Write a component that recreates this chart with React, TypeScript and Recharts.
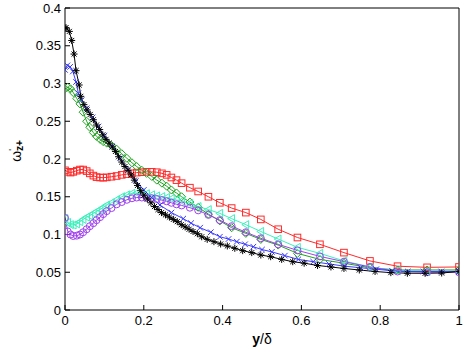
import { Label, Line, LineChart, XAxis, YAxis } from "recharts";

// near-wall stretched grid shared by the red / green / cyan / purple runs
const wallX = [
  0, 0.007, 0.014, 0.021, 0.03, 0.038, 0.046, 0.055, 0.063, 0.072, 0.08, 0.089, 0.097, 0.106, 0.118,
  0.131, 0.144, 0.157, 0.17, 0.182, 0.195, 0.207, 0.22, 0.233, 0.246, 0.258, 0.27, 0.283, 0.296,
  0.317, 0.338, 0.364, 0.393, 0.423, 0.459, 0.497, 0.541, 0.59, 0.647, 0.708, 0.774, 0.844, 0.919, 1.0,
];

const redY = [
  0.185, 0.183, 0.182, 0.183, 0.1845, 0.186, 0.186, 0.184, 0.181, 0.178, 0.176, 0.1755, 0.1752, 0.1757,
  0.1765, 0.1775, 0.179, 0.18, 0.181, 0.182, 0.1825, 0.183, 0.183, 0.1825, 0.181, 0.179, 0.1755, 0.172,
  0.168, 0.162, 0.157, 0.15, 0.142, 0.135, 0.129, 0.12, 0.107, 0.096, 0.087, 0.076, 0.065, 0.058,
  0.0565, 0.057,
];

const greenY = [
  0.293, 0.295, 0.293, 0.288, 0.28, 0.273, 0.262, 0.25, 0.242, 0.235, 0.23, 0.226, 0.223, 0.221, 0.218,
  0.213, 0.207, 0.201, 0.195, 0.19, 0.185, 0.181, 0.177, 0.172, 0.168, 0.164, 0.159, 0.155, 0.15, 0.143,
  0.136, 0.127, 0.118, 0.109, 0.1015, 0.0935, 0.086, 0.075, 0.067, 0.062, 0.056, 0.053, 0.053, 0.053,
];

const cyanY = [
  0.121, 0.116, 0.113, 0.1126, 0.114, 0.117, 0.12, 0.123, 0.125, 0.128, 0.1305, 0.133, 0.136, 0.139,
  0.142, 0.146, 0.15, 0.1525, 0.1545, 0.155, 0.155, 0.154, 0.1525, 0.151, 0.1502, 0.149, 0.1475, 0.1457,
  0.1445, 0.141, 0.137, 0.133, 0.128, 0.121, 0.113, 0.104, 0.094, 0.083, 0.075, 0.065, 0.057, 0.052,
  0.051, 0.051,
];

const purpleY = [
  0.122, 0.104, 0.1, 0.098, 0.0985, 0.1, 0.103, 0.107, 0.111, 0.115, 0.119, 0.123, 0.127, 0.131, 0.135,
  0.14, 0.143, 0.146, 0.148, 0.149, 0.149, 0.1485, 0.148, 0.147, 0.1455, 0.144, 0.142, 0.14, 0.1385,
  0.1355, 0.132, 0.126, 0.119, 0.111, 0.103, 0.095, 0.087, 0.079, 0.071, 0.064, 0.057, 0.051, 0.05, 0.05,
];

const blueX = [
  0, 0.006, 0.013, 0.02, 0.028, 0.034, 0.042, 0.055, 0.07, 0.085, 0.1, 0.12, 0.14, 0.16, 0.18, 0.2, 0.22,
  0.241, 0.27, 0.3, 0.32, 0.343, 0.37, 0.393, 0.415, 0.436, 0.457, 0.478, 0.5, 0.525, 0.558, 0.592, 0.63,
  0.67, 0.71, 0.75, 0.79, 0.83, 0.87, 0.91, 0.955, 1.0,
];
const blueY = [
  0.318, 0.324, 0.322, 0.316, 0.302, 0.287, 0.278, 0.267, 0.255, 0.243, 0.231, 0.217, 0.201, 0.186, 0.171,
  0.159, 0.149, 0.139, 0.129, 0.121, 0.115, 0.109, 0.103, 0.097, 0.094, 0.0905, 0.087, 0.0838, 0.08, 0.077,
  0.072, 0.067, 0.064, 0.061, 0.058, 0.056, 0.054, 0.052, 0.051, 0.051, 0.051, 0.051,
];

const blackX = [
  0, 0.0025, 0.011, 0.017, 0.023, 0.028, 0.036, 0.04, 0.048, 0.056, 0.064, 0.072, 0.08, 0.088, 0.096,
  0.104, 0.112, 0.12, 0.128, 0.136, 0.144, 0.152, 0.16, 0.168, 0.176, 0.184, 0.192, 0.2, 0.209, 0.218,
  0.227, 0.236, 0.245, 0.255, 0.265, 0.275, 0.285, 0.295, 0.305, 0.315, 0.325, 0.336, 0.347, 0.361,
  0.378, 0.395, 0.412, 0.431, 0.451, 0.474, 0.497, 0.522, 0.55, 0.578, 0.607, 0.641, 0.675, 0.708,
  0.747, 0.787, 0.827, 0.869, 0.914, 0.956, 1.0,
];
const blackY = [
  0.373, 0.374, 0.369, 0.357, 0.339, 0.317, 0.298, 0.283, 0.272, 0.265, 0.259, 0.252, 0.245, 0.239,
  0.232, 0.226, 0.221, 0.216, 0.21, 0.203, 0.196, 0.19, 0.185, 0.179, 0.172, 0.165, 0.158, 0.152, 0.147,
  0.142, 0.137, 0.133, 0.129, 0.126, 0.123, 0.12, 0.117, 0.113, 0.11, 0.107, 0.104, 0.101, 0.097, 0.0936,
  0.0905, 0.0874, 0.0848, 0.0817, 0.0786, 0.076, 0.0728, 0.0706, 0.067, 0.064, 0.062, 0.059, 0.057,
  0.055, 0.053, 0.051, 0.0495, 0.0487, 0.0486, 0.049, 0.051,
];

const xTicks = [0, 0.2, 0.4, 0.6, 0.8, 1];
const yTicks = [0, 0.05, 0.1, 0.15, 0.2, 0.25, 0.3, 0.35, 0.4];

const zip = (xs: number[], ys: number[]) => xs.map((x, i) => ({ x, y: ys[i] }));

const FONT = "Liberation Sans, Arial, sans-serif";

type Kind = "star" | "cross" | "diamond" | "square" | "triLeft" | "circle";

function Marker({ kind, cx, cy, color }: { kind: Kind; cx: number; cy: number; color: string }) {
  const p = { stroke: color, strokeWidth: 1, fill: "none" };
  switch (kind) {
    case "star": {
      const r = 3.5;
      const d = r * 0.72;
      return (
        <g {...p}>
          <line x1={cx - r} y1={cy} x2={cx + r} y2={cy} />
          <line x1={cx} y1={cy - r} x2={cx} y2={cy + r} />
          <line x1={cx - d} y1={cy - d} x2={cx + d} y2={cy + d} />
          <line x1={cx - d} y1={cy + d} x2={cx + d} y2={cy - d} />
        </g>
      );
    }
    case "cross": {
      const d = 2.8;
      return (
        <g {...p}>
          <line x1={cx - d} y1={cy - d} x2={cx + d} y2={cy + d} />
          <line x1={cx - d} y1={cy + d} x2={cx + d} y2={cy - d} />
        </g>
      );
    }
    case "diamond": {
      const r = 4;
      return <polygon {...p} points={`${cx},${cy - r} ${cx + r},${cy} ${cx},${cy + r} ${cx - r},${cy}`} />;
    }
    case "square":
      return <rect {...p} x={cx - 3.3} y={cy - 3.3} width={6.6} height={6.6} />;
    case "triLeft": {
      const r = 4;
      return <polygon {...p} points={`${cx - r},${cy} ${cx + r * 0.7},${cy - r} ${cx + r * 0.7},${cy + r}`} />;
    }
    default:
      return <circle {...p} cx={cx} cy={cy} r={3.5} />;
  }
}

const dot = (kind: Kind, color: string) => (props: any) => {
  const { cx, cy, index } = props;
  if (cx == null || cy == null) return <g key={`${kind}-${index}`} />;
  return <Marker key={`${kind}-${index}`} kind={kind} cx={cx} cy={cy} color={color} />;
};

const series: { name: string; xs: number[]; ys: number[]; color: string; kind: Kind }[] = [
  { name: "red", xs: wallX, ys: redY, color: "#ff2a2a", kind: "square" },
  { name: "green", xs: wallX, ys: greenY, color: "#1fa31f", kind: "diamond" },
  { name: "cyan", xs: wallX, ys: cyanY, color: "#3cf0bc", kind: "triLeft" },
  { name: "purple", xs: wallX, ys: purpleY, color: "#a040f0", kind: "circle" },
  { name: "blue", xs: blueX, ys: blueY, color: "#3a3aff", kind: "cross" },
  { name: "black", xs: blackX, ys: blackY, color: "#000000", kind: "star" },
];

const tickStyle = { fontSize: 13, fill: "#000", fontFamily: FONT };

export default function App() {
  return (
    <div style={{ position: "absolute", left: 0, top: 0, background: "#fff" }}>
      <LineChart width={463} height={349} margin={{ top: 0, right: 0, bottom: 0, left: 0 }}>
        <XAxis
          dataKey="x"
          type="number"
          domain={[0, 1]}
          ticks={xTicks}
          allowDataOverflow
          height={39}
          tickSize={-5}
          tickMargin={11}
          tick={tickStyle}
          tickFormatter={(v: number) => String(v)}
          axisLine={{ stroke: "#000" }}
          tickLine={{ stroke: "#000" }}
        >
          <Label
            content={({ viewBox }: any) => (
              <text
                x={viewBox.x + viewBox.width / 2}
                y={viewBox.y + 34}
                textAnchor="middle"
                fontFamily={FONT}
                fontSize={14}
                fill="#000"
              >
                <tspan fontWeight="bold">y</tspan>
                <tspan>/δ</tspan>
              </text>
            )}
          />
        </XAxis>
        <XAxis
          xAxisId="top"
          orientation="top"
          type="number"
          domain={[0, 1]}
          ticks={xTicks}
          allowDataOverflow
          height={8}
          tickSize={-5}
          tick={false}
          axisLine={{ stroke: "#000" }}
          tickLine={{ stroke: "#000" }}
        />
        <YAxis
          type="number"
          domain={[0, 0.4]}
          ticks={yTicks}
          allowDataOverflow
          width={65}
          tickSize={-5}
          tickMargin={9}
          tick={tickStyle}
          tickFormatter={(v: number) => String(v)}
          axisLine={{ stroke: "#000" }}
          tickLine={{ stroke: "#000" }}
        >
          <Label
            content={({ viewBox }: any) => (
              <text
                transform={`translate(21, ${viewBox.y + viewBox.height / 2 - 8}) rotate(-90)`}
                textAnchor="middle"
                fontFamily={FONT}
                fontSize={14}
                fill="#000"
              >
                <tspan>ω</tspan>
                <tspan dy={-6} fontSize={9}>'</tspan>
                <tspan dx={-2} dy={8} fontSize={10} fontWeight="bold">z+</tspan>
              </text>
            )}
          />
        </YAxis>
        <YAxis
          yAxisId="right"
          orientation="right"
          type="number"
          domain={[0, 0.4]}
          ticks={yTicks}
          allowDataOverflow
          width={4}
          tickSize={-5}
          tick={false}
          axisLine={{ stroke: "#000" }}
          tickLine={{ stroke: "#000" }}
        />
        {series.map((s) => (
          <Line
            key={s.name}
            data={zip(s.xs, s.ys)}
            dataKey="y"
            type="linear"
            stroke={s.color}
            strokeWidth={1}
            dot={dot(s.kind, s.color)}
            activeDot={false}
            isAnimationActive={false}
          />
        ))}
      </LineChart>
    </div>
  );
}
